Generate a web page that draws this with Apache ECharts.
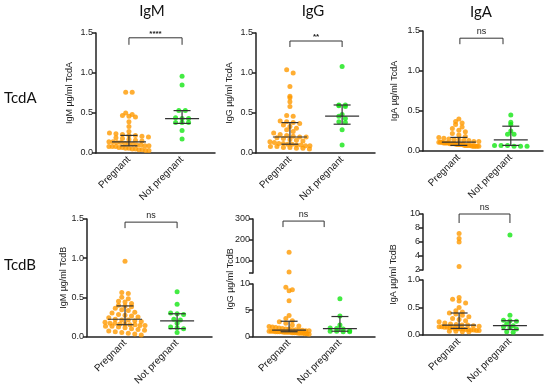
<!DOCTYPE html>
<html><head><meta charset="utf-8">
<script src="https://cdn.jsdelivr.net/npm/echarts@6/dist/echarts.min.js"></script>
<style>html,body{margin:0;padding:0;background:#fff}#c{width:550px;height:388px}</style>
</head><body><div id="c"></div>
<script>
// ---------------- DATA ----------------
const categories = ['Pregnant', 'Not pregnant'];
const columnTitles = ['IgM', 'IgG', 'IgA'];
const rowTitles = ['TcdA', 'TcdB'];

const igmTcdA_preg = [0.76,0.76,0.50,0.48,0.47,0.46,0.45,0.39,0.33,0.27,0.25,0.24,0.23,0.22,0.22,0.21,0.20,0.19,0.18,0.17,0.16,0.15,0.14,0.14,0.13,0.13,0.12,0.12,0.11,0.10,0.10,0.09,0.09,0.08,0.08,0.08,0.07,0.07,0.06,0.06,0.05,0.05,0.04,0.04,0.03,0.03];
const igmTcdA_np = [0.96,0.85,0.53,0.53,0.44,0.43,0.43,0.38,0.38,0.38,0.28,0.175];
const igmTcdA_summary = [[0.09,0.14,0.22],[0.37,0.43,0.53]]; // [q1, median, q3]

const iggTcdA_preg = [1.04,1.00,0.83,0.71,0.69,0.64,0.58,0.47,0.46,0.40,0.39,0.38,0.37,0.35,0.33,0.31,0.29,0.27,0.25,0.23,0.22,0.21,0.20,0.20,0.19,0.18,0.17,0.16,0.15,0.14,0.13,0.12,0.12,0.11,0.11,0.10,0.10,0.09,0.09,0.08,0.08,0.07,0.07,0.06,0.06,0.05];
const iggTcdA_np = [1.08,0.60,0.60,0.59,0.58,0.48,0.46,0.43,0.39,0.38,0.29,0.10];
const iggTcdA_summary = [[0.11,0.20,0.38],[0.36,0.46,0.60]];

const igaTcdA_preg = [0.40,0.37,0.35,0.33,0.30,0.28,0.26,0.24,0.22,0.20,0.18,0.17,0.16,0.15,0.14,0.14,0.13,0.13,0.12,0.12,0.11,0.11,0.11,0.10,0.10,0.10,0.10,0.09,0.09,0.09,0.09,0.08,0.08,0.08,0.08,0.08,0.07,0.07,0.07,0.07,0.07,0.06,0.06,0.06,0.06,0.06];
const igaTcdA_np = [0.45,0.36,0.33,0.25,0.21,0.21,0.07,0.07,0.07,0.06,0.06,0.06];
const igaTcdA_summary = [[0.07,0.11,0.17],[0.07,0.14,0.31]];

const igmTcdB_preg = [0.96,0.56,0.55,0.50,0.48,0.45,0.44,0.42,0.40,0.39,0.38,0.36,0.34,0.33,0.31,0.30,0.28,0.27,0.26,0.25,0.24,0.22,0.21,0.21,0.20,0.19,0.18,0.17,0.17,0.16,0.16,0.15,0.15,0.14,0.14,0.13,0.13,0.12,0.11,0.10,0.09,0.08,0.07,0.06,0.05,0.04,0.03,0.02];
const igmTcdB_np = [0.57,0.41,0.30,0.29,0.28,0.22,0.21,0.17,0.12,0.11,0.10,0.05];
const igmTcdB_summary = [[0.15,0.22,0.39],[0.10,0.20,0.29]];

const iggTcdB_preg = [140,45,9.4,8.9,8.7,6.8,4.0,3.4,3.0,2.8,2.5,2.2,2.0,1.9,1.8,1.7,1.6,1.5,1.4,1.4,1.3,1.3,1.2,1.2,1.1,1.1,1.0,1.0,1.0,0.9,0.9,0.9,0.9,0.8,0.8,0.8,0.8,0.7,0.7,0.7,0.6,0.6,0.6,0.5,0.5,0.4];
const iggTcdB_np = [7.2,3.9,2.2,1.6,1.5,1.4,1.1,1.0,1.0,0.9,0.9];
const iggTcdB_summary = [[0.9,1.2,2.9],[1.0,1.5,3.8]];

const igaTcdB_preg = [7.2,6.5,6.0,2.5,0.68,0.65,0.62,0.58,0.50,0.44,0.42,0.40,0.38,0.36,0.33,0.30,0.28,0.26,0.24,0.22,0.20,0.19,0.18,0.18,0.17,0.16,0.15,0.15,0.14,0.14,0.13,0.13,0.12,0.12,0.11,0.11,0.10,0.10,0.09,0.09,0.08,0.08,0.07,0.07,0.06,0.06];
const igaTcdB_np = [7.0,0.36,0.27,0.26,0.25,0.20,0.17,0.15,0.13,0.11,0.06,0.05];
const igaTcdB_summary = [[0.12,0.18,0.40],[0.10,0.17,0.26]];

const significance = ['****','**','ns','ns','ns','ns'];
const yTicksStd = [0, 0.5, 1.0, 1.5];
const yTicksIggTcdB_low = [0, 5, 10];
const yTicksIggTcdB_high = [100, 200, 300];
const yTicksIgaTcdB_low = [0, 0.5, 1.0];
const yTicksIgaTcdB_high = [2, 4, 6, 8, 10];

// ---------------- LAYOUT ----------------
const ORANGE = '#FF9A00', GREEN = '#14E614', INK = '#222';
const FONT = 'Liberation Sans';
const panels = [
  {name:'IgM µg/ml TcdA', left:96, width:119, top:33, height:120, xMin:-0.62, xMax:1.62, nameGap:22,
   preg:igmTcdA_preg, np:igmTcdA_np, summary:igmTcdA_summary, sig:significance[0], br:{x1:0,x2:1,y:1.44,drop:7}},
  {name:'IgG µg/ml TcdA', left:256, width:119, top:33, height:120, xMin:-0.65, xMax:1.63, nameGap:22,
   preg:iggTcdA_preg, np:iggTcdA_np, summary:iggTcdA_summary, sig:significance[1], br:{x1:0,x2:1,y:1.40,drop:6}},
  {name:'IgA µg/ml TcdA', left:423, width:120, top:31, height:120, xMin:-0.69, xMax:1.62, nameGap:24,
   preg:igaTcdA_preg, np:igaTcdA_np, summary:igaTcdA_summary, sig:significance[2], br:{x1:0.02,x2:0.85,y:1.41,drop:6}},
  {name:'IgM µg/ml TcdB', left:87, width:125, top:219, height:120, xMin:-0.73, xMax:1.67, nameGap:16,
   preg:igmTcdB_preg, np:igmTcdB_np, summary:igmTcdB_summary, sig:significance[3], br:{x1:0,x2:1,y:1.46,drop:6}},
  {name:'IgG µg/ml TcdB', left:253, width:122, xMin:-0.71, xMax:1.69, nameGap:18, broken:true, split:20,
   lower:{top:284, height:55, min:0, max:10, interval:5, labels:yTicksIggTcdB_low, fmt:v=>String(v)},
   upper:{top:219, height:54, min:40, max:300, labels:yTicksIggTcdB_high, tickExtra:[40], fmt:v=>String(v)},
   preg:iggTcdB_preg, np:iggTcdB_np, summary:iggTcdB_summary, sig:significance[4], br:{x1:-0.12,x2:0.69,y:290,drop:6}},
  {name:'IgA µg/ml TcdB', left:423, width:120, xMin:-0.71, xMax:1.65, nameGap:25, broken:true, split:1.5,
   lower:{top:280, height:55, min:0, max:1, interval:0.5, labels:yTicksIgaTcdB_low, fmt:v=>v.toFixed(1)},
   upper:{top:214, height:56, min:2, max:10, interval:2, labels:yTicksIgaTcdB_high, fmt:v=>String(v)},
   preg:igaTcdB_preg, np:igaTcdB_np, summary:igaTcdB_summary, sig:significance[5], br:{x1:0,x2:1,y:10,drop:9}}
];

const axisLineStyle = {color: INK, width: 1.5};
function xAxisDef(gi, p, show) {
  return {gridIndex: gi, type: 'value', min: p.xMin, max: p.xMax, show: show,
    axisLine: {show: true, onZero: false, lineStyle: axisLineStyle},
    axisTick: {show: false}, splitLine: {show: false},
    axisLabel: {show: true, customValues: [0, 1], formatter: v => categories[Math.round(v)],
      rotate: 45, fontSize: 10, color: INK, margin: 5, fontFamily: FONT}};
}
function yAxisDef(gi, o) {
  const ax = {gridIndex: gi, type: 'value', min: o.min, max: o.max,
    axisLine: {show: true, onZero: false, lineStyle: axisLineStyle},
    axisTick: {show: true, length: 4, lineStyle: axisLineStyle},
    splitLine: {show: false},
    axisLabel: {fontSize: 9, color: INK, margin: 3, fontFamily: FONT, formatter: o.fmt}};
  if (o.interval != null) ax.interval = o.interval;
  if (o.labels) ax.axisLabel.customValues = o.labels;
  if (o.labels) ax.axisTick.customValues = (o.tickExtra || []).concat(o.labels);
  if (o.name) Object.assign(ax, {name: o.name, nameLocation: 'middle', nameGap: o.nameGap,
    nameTextStyle: {fontSize: 9, color: INK, fontFamily: FONT}});
  return ax;
}

const grids = [], xAxes = [], yAxes = [], series = [];
panels.forEach(p => {
  if (!p.broken) {
    const gi = grids.length;
    grids.push({left: p.left, top: p.top, width: p.width, height: p.height});
    xAxes.push(xAxisDef(gi, p, true));
    yAxes.push(yAxisDef(gi, {min: 0, max: 1.5, interval: 0.5, labels: yTicksStd, fmt: v => v.toFixed(1), name: p.name, nameGap: p.nameGap}));
    p.lowG = gi; p.topG = gi;
  } else {
    const gl = grids.length;
    grids.push({left: p.left, top: p.lower.top, width: p.width, height: p.lower.height});
    xAxes.push(xAxisDef(gl, p, true));
    yAxes.push(yAxisDef(gl, p.lower));
    const gu = grids.length;
    grids.push({left: p.left, top: p.upper.top, width: p.width, height: p.upper.height});
    xAxes.push(xAxisDef(gu, p, false));
    yAxes.push(yAxisDef(gu, p.upper));
    const gn = grids.length;
    const bottom = p.lower.top + p.lower.height;
    grids.push({left: p.left, top: p.upper.top, width: p.width, height: bottom - p.upper.top});
    xAxes.push({gridIndex: gn, type: 'value', show: false, min: 0, max: 1});
    yAxes.push({gridIndex: gn, type: 'value', min: 0, max: 1, name: p.name, nameLocation: 'middle', nameGap: p.nameGap,
      nameTextStyle: {fontSize: 9, color: INK, fontFamily: FONT},
      axisLine: {show: false}, axisTick: {show: false}, axisLabel: {show: false}, splitLine: {show: false}});
    p.lowG = gl; p.topG = gu;
  }
});

const chart = echarts.init(document.getElementById('c'), null, {renderer: 'canvas'});
const titleStyle = {font: '15px Lato', fill: '#111'};
const graphic = [
  {type:'text', x:152, y:11, style:Object.assign({text:columnTitles[0], align:'center', verticalAlign:'middle'}, titleStyle)},
  {type:'text', x:313, y:11, style:Object.assign({text:columnTitles[1], align:'center', verticalAlign:'middle'}, titleStyle)},
  {type:'text', x:481, y:12, style:Object.assign({text:columnTitles[2], align:'center', verticalAlign:'middle'}, titleStyle)},
  {type:'text', x:4, y:98, style:Object.assign({text:rowTitles[0], align:'left', verticalAlign:'middle'}, titleStyle)},
  {type:'text', x:4, y:265, style:Object.assign({text:rowTitles[1], align:'left', verticalAlign:'middle'}, titleStyle)}
];
chart.setOption({animation: false, grid: grids, xAxis: xAxes, yAxis: yAxes, graphic: graphic, series: []});

// deterministic row layout (GraphPad-style scatter): points binned by pixel row, centred side by side
function rowLayout(pys, binH, step, maxHalf) {
  const bins = {};
  pys.forEach((y, i) => { const b = Math.round(y / binH); (bins[b] = bins[b] || []).push(i); });
  const offs = new Array(pys.length).fill(0);
  Object.keys(bins).forEach(b => {
    const idx = bins[b];
    const n = idx.length;
    const s = n > 1 ? Math.min(step, (2 * maxHalf) / (n - 1)) : 0;
    idx.forEach((i, k) => { offs[i] = (k - (n - 1) / 2) * s; });
  });
  return offs;
}

panels.forEach(p => {
  const groups = [[p.preg, ORANGE, 0, 20], [p.np, GREEN, 1, 22]];
  groups.forEach(([vals, color, cat, maxHalf]) => {
    const gOf = v => (p.broken && v > p.split) ? p.topG : p.lowG;
    const pys = vals.map(v => chart.convertToPixel({gridIndex: gOf(v)}, [cat, v])[1]);
    const offs = rowLayout(pys, 4.5, 6.5, maxHalf);
    const ppu = chart.convertToPixel({gridIndex: p.lowG}, [1, 0])[0] - chart.convertToPixel({gridIndex: p.lowG}, [0, 0])[0];
    const byGrid = {};
    vals.forEach((v, i) => { const g = gOf(v); (byGrid[g] = byGrid[g] || []).push([cat + offs[i] / ppu, v]); });
    Object.keys(byGrid).forEach(g => {
      series.push({type: 'scatter', xAxisIndex: +g, yAxisIndex: +g, symbol: 'circle', symbolSize: 5,
        itemStyle: {color: color}, data: byGrid[g], silent: true, z: 2});
    });
  });
  // median + interquartile range
  series.push({type: 'custom', xAxisIndex: p.lowG, yAxisIndex: p.lowG, z: 5, silent: true,
    encode: {x: 0, y: 2},
    data: p.summary.map((s, i) => [i, s[0], s[1], s[2]]),
    renderItem: (params, api) => {
      const c = api.value(0);
      const pm = api.coord([c, api.value(2)]), p1 = api.coord([c, api.value(1)]), p3 = api.coord([c, api.value(3)]);
      const ls = {stroke: '#333', lineWidth: 1.2};
      return {type: 'group', children: [
        {type: 'line', shape: {x1: pm[0] - 17, y1: pm[1], x2: pm[0] + 17, y2: pm[1]}, style: ls},
        {type: 'line', shape: {x1: p1[0], y1: p1[1], x2: p3[0], y2: p3[1]}, style: ls},
        {type: 'line', shape: {x1: p1[0] - 8.5, y1: p1[1], x2: p1[0] + 8.5, y2: p1[1]}, style: ls},
        {type: 'line', shape: {x1: p3[0] - 8.5, y1: p3[1], x2: p3[0] + 8.5, y2: p3[1]}, style: ls}
      ]};
    }});
  // significance bracket
  const sig = p.sig, drop = p.br.drop;
  series.push({type: 'custom', xAxisIndex: p.topG, yAxisIndex: p.topG, z: 5, silent: true,
    encode: {x: [0, 1], y: 2},
    data: [[p.br.x1, p.br.x2, p.br.y]],
    renderItem: (params, api) => {
      const a = api.coord([api.value(0), api.value(2)]), b = api.coord([api.value(1), api.value(2)]);
      const stars = sig.indexOf('*') >= 0;
      return {type: 'group', children: [
        {type: 'polyline', shape: {points: [[a[0], a[1] + drop], [a[0], a[1]], [b[0], b[1]], [b[0], b[1] + drop]]},
         style: {stroke: '#333', lineWidth: 1, fill: null}},
        {type: 'text', x: (a[0] + b[0]) / 2, y: a[1] - (stars ? 0 : 2),
         style: {text: sig, align: 'center', verticalAlign: 'bottom', fill: INK,
           font: stars ? 'bold 8px ' + FONT : '9px ' + FONT}}
      ]};
    }});
});

chart.setOption({series: series});
</script>
</body></html>
